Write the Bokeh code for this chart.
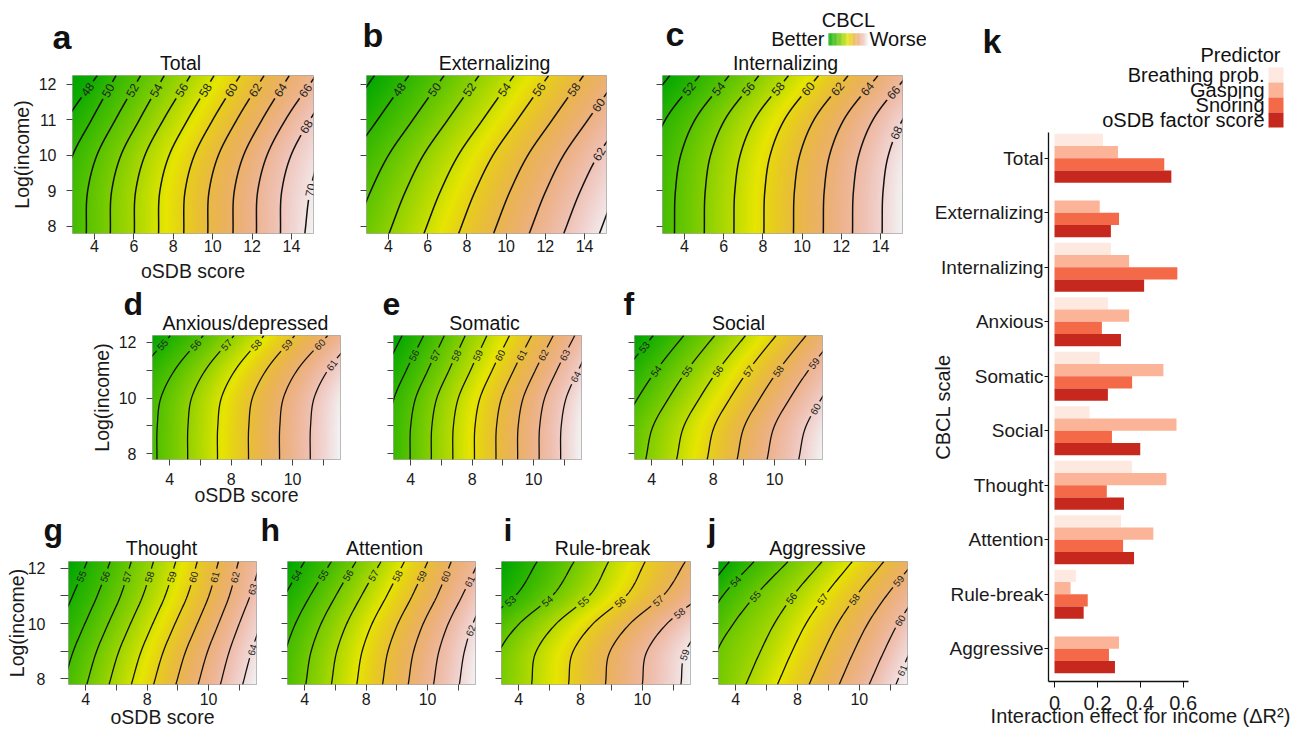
import colorsys
import numpy as np
from bokeh.plotting import figure
from bokeh.layouts import row, column
from bokeh.models import Range1d, FixedTicker, LinearColorMapper, ColumnDataSource
from bokeh.embed import file_html
from bokeh.resources import INLINE
from bokeh.core.properties import value
from bokeh.transform import dodge

FONT = "Liberation Sans"
TXT = "#1a1a1a"

# ------------------------------------------------------------------ data
# contour lines: x position (oSDB score) of each CBCL level at the income rows
INCOME_ROWS = [7.8, 9.0, 10.0, 11.0, 12.25]
OSDB_TICKS = [4, 6, 8, 10, 12, 14]
INCOME_TICKS = [8, 9, 10, 11, 12]

TOTAL_LEVELS = [46, 48, 50, 52, 54, 56, 58, 60, 62, 64, 66, 68, 70, 72]
TOTAL_X = [[-0.20, -0.10, 0.40, 1.25, 2.45], [1.10, 1.17, 1.64, 2.58, 4.15],
           [2.35, 2.42, 2.89, 3.85, 5.10], [3.58, 3.65, 4.12, 5.06, 6.35],
           [4.80, 4.87, 5.34, 6.28, 7.55], [6.02, 6.09, 6.56, 7.50, 8.88],
           [7.25, 7.32, 7.79, 8.73, 10.08], [8.53, 8.60, 9.07, 10.01, 11.40],
           [9.75, 9.82, 10.29, 11.23, 12.62], [11.03, 11.10, 11.57, 12.51, 13.90],
           [12.22, 12.29, 12.76, 13.70, 15.25], [13.44, 13.51, 13.98, 14.95, 16.45],
           [14.68, 14.95, 15.45, 16.30, 17.70], [15.90, 16.15, 16.65, 17.50, 18.90]]

EXT_LEVELS = [44, 46, 48, 50, 52, 54, 56, 58, 60, 62, 64, 66]
EXT_X = [[-3.10, -2.25, -1.35, -0.10, 1.50], [-1.30, -0.45, 0.45, 1.70, 3.30],
         [0.45, 1.30, 2.20, 3.45, 5.05], [2.25, 3.10, 4.00, 5.25, 6.85],
         [4.03, 4.88, 5.78, 7.03, 8.63], [5.81, 6.66, 7.56, 8.81, 10.41],
         [7.58, 8.43, 9.33, 10.58, 12.18], [9.36, 10.21, 11.11, 12.36, 13.96],
         [11.18, 12.03, 12.93, 14.18, 15.78], [12.94, 13.79, 14.69, 15.94, 17.54],
         [14.76, 15.61, 16.51, 17.76, 19.36], [16.55, 17.40, 18.30, 19.55, 21.15]]

INT_LEVELS = [48, 50, 52, 54, 56, 58, 60, 62, 64, 66, 68, 70]
INT_X = [[-1.04, -0.99, -0.72, 0.01, 1.76], [0.47, 0.52, 0.79, 1.52, 3.27],
         [1.98, 2.03, 2.30, 3.03, 4.78], [3.49, 3.54, 3.81, 4.54, 6.29],
         [5.01, 5.06, 5.33, 6.06, 7.81], [6.52, 6.57, 6.84, 7.57, 9.32],
         [8.05, 8.10, 8.37, 9.10, 10.85], [9.56, 9.61, 9.88, 10.61, 12.36],
         [11.08, 11.13, 11.40, 12.13, 13.88], [12.57, 12.62, 12.89, 13.62, 15.37],
         [14.08, 14.13, 14.40, 15.13, 16.88], [15.59, 15.64, 15.91, 16.64, 18.39]]

ANX_LEVELS = [54, 55, 56, 57, 58, 59, 60, 61, 62]
ANX_X = [[-0.80, -0.78, -0.55, 0.35, 2.25], [1.00, 1.02, 1.25, 2.15, 4.05],
         [3.17, 3.19, 3.42, 4.32, 6.20], [5.17, 5.19, 5.42, 6.32, 8.20],
         [7.11, 7.13, 7.36, 8.26, 10.15], [9.13, 9.15, 9.38, 10.28, 12.15],
         [11.15, 11.17, 11.40, 12.30, 14.30], [13.15, 13.17, 13.40, 14.30, 16.20],
         [15.20, 15.22, 15.45, 16.35, 18.20]]

SOM_LEVELS = [54, 55, 56, 57, 58, 59, 60, 61, 62, 63, 64, 65]
SOM_X = [[-0.24, -0.20, 0.12, 0.92, 2.00], [1.16, 1.20, 1.52, 2.32, 3.45],
         [2.56, 2.60, 2.92, 3.72, 4.85], [3.96, 4.00, 4.32, 5.12, 6.20],
         [5.34, 5.38, 5.70, 6.50, 7.56], [6.74, 6.78, 7.10, 7.90, 8.97],
         [8.15, 8.19, 8.51, 9.31, 10.44], [9.55, 9.59, 9.91, 10.71, 11.88],
         [10.96, 11.00, 11.32, 12.12, 13.29], [12.36, 12.40, 12.72, 13.52, 14.69],
         [13.76, 13.80, 14.12, 14.92, 16.05], [15.16, 15.20, 15.52, 16.32, 17.45]]

SOC_LEVELS = [52, 53, 54, 55, 56, 57, 58, 59, 60, 61]
SOC_X = [[-2.40, -1.92, -0.90, 0.30, 2.10], [-0.39, 0.09, 1.11, 2.31, 4.11],
         [1.60, 2.08, 3.10, 4.30, 6.10], [3.61, 4.09, 5.11, 6.31, 8.11],
         [5.62, 6.10, 7.12, 8.32, 10.12], [7.61, 8.09, 9.11, 10.31, 12.11],
         [9.56, 10.04, 11.06, 12.26, 14.06], [11.51, 11.99, 13.01, 14.21, 16.01],
         [13.57, 14.05, 15.07, 16.27, 18.07], [15.60, 16.08, 17.10, 18.30, 20.10]]

THO_LEVELS = [54, 55, 56, 57, 58, 59, 60, 61, 62, 63, 64, 65]
THO_X = [[-0.60, 0.10, 0.85, 1.65, 2.65], [0.95, 1.60, 2.35, 3.15, 4.10],
         [2.55, 3.19, 3.95, 4.75, 5.60], [4.07, 4.71, 5.47, 6.27, 6.97],
         [5.52, 6.16, 6.92, 7.72, 8.42], [6.97, 7.61, 8.37, 9.17, 9.87],
         [8.42, 9.06, 9.82, 10.62, 11.27], [9.87, 10.51, 11.27, 12.02, 12.65],
         [11.32, 11.94, 12.65, 13.35, 13.95], [12.77, 13.35, 14.00, 14.70, 15.40],
         [14.22, 14.80, 15.40, 16.00, 16.60], [15.70, 16.30, 16.90, 17.50, 18.10]]

ATT_LEVELS = [53, 54, 55, 56, 57, 58, 59, 60, 61, 62, 63]
ATT_X = [[-0.95, -0.60, 0.05, 1.00, 2.30], [0.73, 1.08, 1.73, 2.68, 4.00],
         [2.40, 2.75, 3.40, 4.35, 5.75], [4.07, 4.42, 5.07, 6.02, 7.35],
         [5.74, 6.09, 6.74, 7.69, 8.98], [7.39, 7.74, 8.39, 9.34, 10.50],
         [9.07, 9.42, 10.07, 11.00, 12.02], [10.74, 11.09, 11.72, 12.62, 13.55],
         [12.39, 12.74, 13.35, 14.25, 15.35], [14.07, 14.40, 14.95, 15.80, 16.90],
         [15.74, 16.05, 16.60, 17.40, 18.50]]

RUL_LEVELS = [51, 52, 53, 54, 55, 56, 57, 58, 59, 60]
RUL_X = [[-4.70, -4.40, -3.10, -1.00, 0.30], [-2.34, -2.04, -0.74, 1.38, 2.80],
         [0.05, 0.35, 1.65, 3.77, 5.20], [2.44, 2.74, 4.04, 6.16, 7.60],
         [4.83, 5.13, 6.43, 8.55, 9.83], [7.22, 7.52, 8.82, 10.94, 12.20],
         [9.61, 9.91, 11.21, 13.33, 14.80], [12.00, 12.30, 13.60, 15.72, 17.00],
         [14.50, 14.80, 16.10, 18.20, 19.50], [16.90, 17.20, 18.50, 20.60, 21.90]]

AGG_LEVELS = [52, 53, 54, 55, 56, 57, 58, 59, 60, 61, 62]
AGG_X = [[-3.20, -2.30, -1.45, -0.25, 1.60], [-1.20, -0.30, 0.55, 1.80, 3.60],
         [0.55, 1.30, 2.10, 3.15, 5.20], [2.60, 2.80, 3.85, 5.25, 7.40],
         [4.65, 5.60, 6.50, 7.70, 9.60], [6.70, 7.65, 8.55, 9.75, 11.56],
         [8.75, 9.70, 10.60, 11.80, 13.60], [10.70, 11.65, 12.55, 13.75, 15.60],
         [12.64, 13.60, 14.50, 15.70, 17.50], [14.37, 15.30, 16.20, 17.40, 19.20],
         [16.30, 17.20, 18.10, 19.30, 21.10]]

# bar chart k
SCALES = ["Total", "Externalizing", "Internalizing", "Anxious", "Somatic",
          "Social", "Thought", "Attention", "Rule-break", "Aggressive"]
PREDICTORS = ["Breathing prob.", "Gasping", "Snoring", "oSDB factor score"]
BREATHING = [0.226, 0.0, 0.263, 0.249, 0.211, 0.164, 0.362, 0.310, 0.099, 0.0]
GASPING = [0.296, 0.211, 0.348, 0.348, 0.508, 0.569, 0.522, 0.461, 0.075, 0.301]
SNORING = [0.512, 0.301, 0.573, 0.221, 0.362, 0.268, 0.244, 0.320, 0.155, 0.254]
OSDB = [0.545, 0.263, 0.418, 0.310, 0.249, 0.400, 0.324, 0.371, 0.136, 0.282]
BAR_TICKS = [0, 0.2, 0.4, 0.6]

# ------------------------------------------------------------------ helpers
def terrain(n):
    k = n // 2
    cols = []
    for h, v in zip(np.linspace(4 / 12, 2 / 12, k), np.linspace(0.65, 0.9, k)):
        cols.append(colorsys.hsv_to_rgb(h, 1.0, v))
    m = n - k + 1
    for h, s, v in zip(np.linspace(2 / 12, 0, m)[1:], np.linspace(1, 0, m)[1:],
                       np.linspace(0.9, 0.95, m)[1:]):
        cols.append(colorsys.hsv_to_rgb(h, s, v))
    return ["#%02x%02x%02x" % tuple(int(round(c * 255)) for c in rgb) for rgb in cols]


PAL = terrain(256)


def hermite(yk, xk, yq):
    yk = np.asarray(yk, float)
    xk = np.asarray(xk, float)
    h = np.diff(yk)
    d = np.diff(xk) / h
    m = np.empty_like(xk)
    m[0], m[-1] = d[0], d[-1]
    m[1:-1] = (h[1:] * d[:-1] + h[:-1] * d[1:]) / (h[:-1] + h[1:])
    i = np.clip(np.searchsorted(yk, yq, side="right") - 1, 0, len(yk) - 2)
    t = (yq - yk[i]) / h[i]
    t2, t3 = t * t, t * t * t
    return ((2 * t3 - 3 * t2 + 1) * xk[i] + (t3 - 2 * t2 + t) * h[i] * m[i]
            + (-2 * t3 + 3 * t2) * xk[i + 1] + (t3 - t2) * h[i] * m[i + 1])


XLO, XHI, YLO, YHI = 2.88, 15.12, 7.8, 12.24


def style_axes(p):
    for ax in (p.xaxis[0], p.yaxis[0]):
        ax.axis_line_color = None
        ax.major_tick_line_color = "#444444"
        ax.major_tick_in = 0
        ax.minor_tick_line_color = None
        ax.major_label_text_font = FONT
        ax.major_label_text_font_size = "16px"
        ax.major_label_text_color = TXT
        ax.axis_label_text_font = FONT
        ax.axis_label_text_font_size = "19.5px"
        ax.axis_label_text_font_style = "normal"
        ax.axis_label_text_color = TXT


def panel(levels, X, L):
    W, H, bl, br, bt, bb = L["box"]
    fw, fh = W - bl - br, H - bt - bb
    p = figure(width=W, height=H, x_range=Range1d(XLO, XHI), y_range=Range1d(YLO, YHI),
               toolbar_location=None, output_backend="svg",
               min_border_left=bl, min_border_right=br, min_border_top=bt, min_border_bottom=bb)
    p.grid.visible = False
    p.outline_line_color = "#a8a8a8"
    p.outline_line_width = 1
    style_axes(p)
    p.xaxis.ticker = FixedTicker(ticks=OSDB_TICKS)
    p.yaxis.ticker = FixedTicker(ticks=INCOME_TICKS)
    p.xaxis.major_tick_out = 6
    p.yaxis.major_tick_out = L.get("ytick", 6)
    p.xaxis.major_label_standoff = L.get("xstand", 1)
    p.yaxis.major_label_standoff = L.get("ystand", 10)
    if L["xsparse"]:
        p.xaxis.major_label_overrides = {4: "4", 6: "", 8: "8", 10: "", 12: "10", 14: ""}
    if L["ylabels"] == "none":
        p.yaxis.major_label_overrides = {t: "" for t in INCOME_TICKS}
    elif L["ylabels"] == "sparse":
        p.yaxis.major_label_overrides = {9: "", 11: ""}
    if L["xlab"]:
        p.xaxis.axis_label = "oSDB score"
        p.xaxis.axis_label_standoff = L.get("xlstand", 4)
    if L["ylab"]:
        p.yaxis.axis_label = "Log(income)"
        p.yaxis.axis_label_standoff = L.get("ylstand", 3)

    lv = np.asarray(levels, float)
    Xa = np.asarray(X, float)
    # smooth field for the background colours
    yf = np.linspace(YLO, YHI, fh)
    xg = np.linspace(XLO, XHI, fw)
    XL = np.array([hermite(INCOME_ROWS, Xa[i], yf) for i in range(len(lv))])
    Z = np.empty((len(yf), len(xg)))
    for j in range(len(yf)):
        xs = XL[:, j]
        z = np.interp(xg, xs, lv)
        lo = xg < xs[0]
        hi = xg > xs[-1]
        z[lo] = lv[0] + (xg[lo] - xs[0]) * (lv[1] - lv[0]) / (xs[1] - xs[0])
        z[hi] = lv[-1] + (xg[hi] - xs[-1]) * (lv[-1] - lv[-2]) / (xs[-1] - xs[-2])
        Z[j] = z
    mapper = LinearColorMapper(palette=PAL, low=float(Z.min()), high=float(Z.max()))
    p.image(image=[Z], x=XLO, y=YLO, dw=XHI - XLO, dh=YHI - YLO, color_mapper=mapper)

    # contour lines + labels
    kx, ky = fw / (XHI - XLO), fh / (YHI - YLO)
    yl = np.linspace(YLO, YHI, 500)
    fs = L["fs"]
    mx, my = [], []
    lab = dict(x=[], y=[], text=[], angle=[])
    for lev, xr in zip(lv, Xa):
        xl = hermite(INCOME_ROWS, xr, yl)
        vis = (xl >= XLO) & (xl <= XHI)
        if not vis.any():
            continue
        sx = (xl - XLO) * kx
        sy = (yl - YLO) * ky
        cum = np.concatenate([[0.0], np.cumsum(np.hypot(np.diff(sx), np.diff(sy)))])
        idx = np.where(vis)[0]
        i0, i1 = idx[0], idx[-1]
        s0, s1 = cum[i0], cum[i1]
        xplot = xl.copy()
        if s1 - s0 >= 24:
            D = L["dtop"] if i1 == len(yl) - 1 else 14
            s_lab = (s0 + s1) / 2 if (s1 - s0) < D + 10 else s1 - D
            lx = float(np.interp(s_lab, cum, xl))
            ly = float(np.interp(s_lab, cum, yl))
            dxs = np.interp(s_lab + 3, cum, sx) - np.interp(s_lab - 3, cum, sx)
            dys = np.interp(s_lab + 3, cum, sy) - np.interp(s_lab - 3, cum, sy)
            ang = float(np.arctan2(dys, dxs))
            if ang > np.pi / 2:
                ang -= np.pi
            if ang < -np.pi / 2:
                ang += np.pi
            txt = "%d" % int(round(lev))
            lab["x"].append(lx)
            lab["y"].append(ly)
            lab["text"].append(txt)
            lab["angle"].append(ang)
            half = 0.3 * fs * len(txt) + 2.5
            xplot[np.abs(cum - s_lab) < half] = np.nan
        mx.append(xplot)
        my.append(yl.copy())
    p.multi_line(xs=mx, ys=my, line_color="#111111", line_width=L["lw"])
    p.text(x="x", y="y", text="text", angle="angle", source=ColumnDataSource(lab),
           text_font=value(FONT), text_font_size="%gpx" % fs, text_color="#222222",
           text_align="center", text_baseline="middle")
    return p


def blank(x0, x1, y0, y1):
    f = figure(width=x1 - x0, height=y1 - y0, x_range=Range1d(x0, x1), y_range=Range1d(y1, y0),
               x_axis_type=None, y_axis_type=None, toolbar_location=None, output_backend="svg",
               min_border=0)
    f.outline_line_color = None
    f.background_fill_color = None
    f.border_fill_color = None
    return f


def put(f, items, size, align="left", bold=False):
    # items: (text, x, baseline y); drawn with middle alignment
    f.text(x=[i[1] for i in items], y=[i[2] - 0.35 * size for i in items],
           text=[i[0] for i in items], text_font=value(FONT), text_font_size="%gpx" % size,
           text_color="#111111", text_font_style="bold" if bold else "normal",
           text_align=align, text_baseline="middle")


LW = 926   # width of the left block (contour panels)

# ------------------------------------------------------------------ headers
H1 = blank(0, LW, 0, 74)
put(H1, [("a", 52, 48), ("b", 362, 46), ("c", 665, 45)], 34, bold=True)
put(H1, [("Total", 180, 69), ("Externalizing", 494, 69), ("Internalizing", 785, 69)],
    19.5, align="center")
put(H1, [("CBCL", 848, 26)], 20, align="center")
put(H1, [("Better", 824, 45)], 20, align="right")
put(H1, [("Worse", 869, 45)], 20, align="left")
ng = 48
edges = np.linspace(828, 867.5, ng + 1)
H1.quad(left=edges[:-1], right=edges[1:], top=32.7, bottom=45,
        fill_color=[PAL[int(round(k * 255 / (ng - 1)))] for k in range(ng)], line_color=None)

H2 = blank(0, LW, 285, 334)
put(H2, [("d", 123, 315), ("e", 382, 315), ("f", 623, 315)], 32, bold=True)
put(H2, [("Anxious/depressed", 245, 329.5), ("Somatic", 484, 329.5), ("Social", 738, 329.5)],
    19.5, align="center")

H3 = blank(0, LW, 509, 559)
put(H3, [("g", 43, 541), ("h", 260, 541), ("i", 503, 541), ("j", 707, 541)], 32, bold=True)
put(H3, [("Thought", 161, 554), ("Attention", 384, 554), ("Rule-break", 602, 554),
         ("Aggressive", 817, 554)], 19.5, align="center")

# ------------------------------------------------------------------ panels
big = dict(fs=12, lw=1.5)
small = dict(fs=10, lw=1.3)
r1 = dict(xstand=0, xlstand=5)
r2 = dict(xstand=7, xlstand=-4)
r3 = dict(xstand=2, xlstand=-2)
pa = panel(TOTAL_LEVELS, TOTAL_X, dict(box=(340, 211, 72, 27, 1, 52), xsparse=False, ylabels="all",
                                       xlab=True, ylab=True, dtop=17, **big, **r1))
pb = panel(EXT_LEVELS, EXT_X, dict(box=(296, 211, 26, 30, 1, 52), xsparse=False, ylabels="none",
                                   xlab=False, ylab=False, dtop=17, **big, **r1))
pc = panel(INT_LEVELS, INT_X, dict(box=(290, 211, 26, 24, 1, 52), xsparse=False, ylabels="none",
                                   xlab=False, ylab=False, dtop=17, **big, **r1))
pd = panel(ANX_LEVELS, ANX_X, dict(box=(365, 175, 152, 25, 1, 50), xsparse=True, ylabels="sparse",
                                   xlab=True, ylab=True, dtop=12, **small, **r2))
pe = panel(SOM_LEVELS, SOM_X, dict(box=(245, 175, 28, 29, 1, 50), xsparse=True, ylabels="none",
                                   xlab=False, ylab=False, dtop=22, **small, **r2))
pf = panel(SOC_LEVELS, SOC_X, dict(box=(316, 175, 24, 104, 1, 50), xsparse=True, ylabels="none",
                                   xlab=False, ylab=False, dtop=45, **small, **r2))
pg = panel(THO_LEVELS, THO_X, dict(box=(272, 172, 68, 16, 2, 47), xsparse=True, ylabels="sparse",
                                   xlab=True, ylab=True, dtop=16, ytick=8, ystand=15, ylstand=-3,
                                   **small, **r3))
ph = panel(ATT_LEVELS, ATT_X, dict(box=(216, 172, 15, 13, 2, 47), xsparse=True, ylabels="none",
                                   xlab=False, ylab=False, dtop=16, **small, **r3))
pi = panel(RUL_LEVELS, RUL_X, dict(box=(217, 172, 13, 15, 2, 47), xsparse=True, ylabels="none",
                                   xlab=False, ylab=False, dtop=48, **small, **r3))
pj = panel(AGG_LEVELS, AGG_X, dict(box=(221, 172, 13, 19, 2, 47), xsparse=True, ylabels="none",
                                   xlab=False, ylab=False, dtop=48, **small, **r3))

# ------------------------------------------------------------------ bar chart k
BAR_COLORS = ["#fde9df", "#fcb498", "#f46a49", "#c6281d"]
RW = 1294 - LW
HK = blank(LW, 1294, 0, 132)
put(HK, [("k", 982, 52)], 34, bold=True)
put(HK, [("Predictor", 1280, 61)], 20, align="right")
base = [81, 96, 111, 126.5]
put(HK, [(PREDICTORS[i], 1264, base[i]) for i in range(4)], 20, align="right")
HK.quad(left=1268, right=1283, top=[67, 82, 97, 112], bottom=[82, 97, 112, 127],
        fill_color=BAR_COLORS, line_color=None)

BAR_X0, BAR_X1 = -0.028, 0.625          # visible axis extent (140 px)
bar_ext = BAR_X0 + (BAR_X1 - BAR_X0) * 184 / 140   # frame widened so the axis title centres like the original
bp = figure(width=RW, height=599, x_range=Range1d(BAR_X0, bar_ext),
            y_range=Range1d(9.602, -0.545 + 4 / 54.5),
            toolbar_location=None, output_backend="svg",
            min_border_left=1048 - LW, min_border_right=62, min_border_top=0, min_border_bottom=50)
bp.grid.visible = False
bp.outline_line_color = None
src = ColumnDataSource(dict(idx=list(range(len(SCALES))), breathing=BREATHING, gasping=GASPING,
                            snoring=SNORING, osdb=OSDB))
for col, off, colr in zip(["breathing", "gasping", "snoring", "osdb"],
                          [-0.3375, -0.1125, 0.1125, 0.3375], BAR_COLORS):
    bp.hbar(y=dodge("idx", off, range=bp.y_range), left=0, right=col, height=0.225,
            source=src, fill_color=colr, line_color=None)
for ax in (bp.xaxis[0], bp.yaxis[0]):
    ax.axis_line_color = "#111111"
    ax.axis_line_width = 1.3
    ax.major_tick_line_color = "#111111"
    ax.major_tick_in = 0
    ax.minor_tick_line_color = None
    ax.major_label_text_font = FONT
    ax.major_label_text_font_size = "20px"
    ax.major_label_text_color = TXT
    ax.axis_label_text_font = FONT
    ax.axis_label_text_font_size = "20px"
    ax.axis_label_text_font_style = "normal"
    ax.axis_label_text_color = TXT
bp.xaxis.bounds = (BAR_X0, BAR_X1)
bp.yaxis.ticker = FixedTicker(ticks=list(range(len(SCALES))))
bp.yaxis.major_label_overrides = {i: s for i, s in enumerate(SCALES)}
bp.yaxis.major_label_text_font_size = "19px"
bp.yaxis.major_tick_out = 4
bp.yaxis.major_label_standoff = 1
bp.yaxis.axis_label = "CBCL scale"
bp.yaxis.axis_label_standoff = -22
bp.xaxis.ticker = FixedTicker(ticks=BAR_TICKS)
bp.xaxis.major_label_overrides = {0: "0"}
bp.xaxis.major_tick_out = 6
bp.xaxis.major_label_standoff = 8
bp.xaxis.axis_label = "Interaction effect for income (\u0394R\u00b2)"
bp.xaxis.axis_label_standoff = -8

left = column(H1, row(pa, pb, pc), H2, row(pd, pe, pf), H3, row(pg, ph, pi, pj))
right = column(row(HK), row(bp))
root = row(left, right)

open("out.html", "w").write(file_html(root, INLINE))
